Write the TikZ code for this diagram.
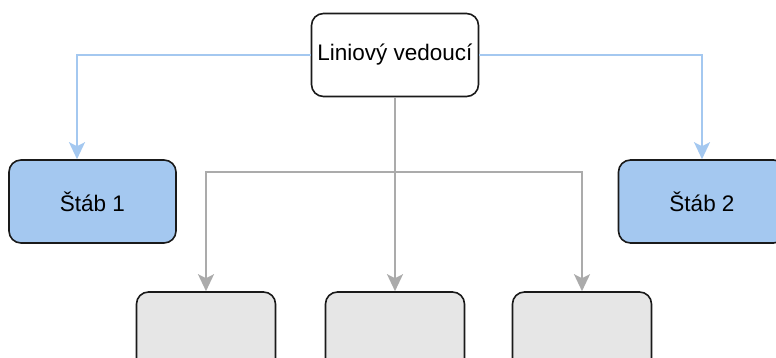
\documentclass[tikz,border=0pt]{standalone}
\usepackage{fontspec}
\setmainfont{Liberation Sans}
\usetikzlibrary{arrows.meta}
\definecolor{boxline}{HTML}{1A1A1A}
\definecolor{stafffill}{HTML}{A4C8F0}
\definecolor{staffline}{HTML}{A4C8F0}
\definecolor{unitfill}{HTML}{E6E6E6}
\definecolor{unitline}{HTML}{ABABAB}
\tikzset{
  orgbox/.style={draw=boxline, line width=1.6pt, rounded corners=12pt,
    minimum width=167pt, minimum height=83pt, inner sep=0pt,
    font=\fontsize{22.5}{27}\selectfont},
  headbox/.style={orgbox, fill=white},
  staffbox/.style={orgbox, fill=stafffill},
  unitbox/.style={orgbox, fill=unitfill, minimum width=139pt},
  tip/.style={-{Stealth[length=17pt, width=16pt, inset=4pt]}},
  staffarrow/.style={tip, draw=staffline, line width=2pt},
  unitarrow/.style={tip, draw=unitline, line width=2pt},
}
\begin{document}
\begin{tikzpicture}[x=1pt, y=-1pt]
  \useasboundingbox (0,0) rectangle (776,358);
  \begin{scope}
    \clip (0,0) rectangle (776,358);
    % organisation units
    \node[headbox]  (head)  at (395,55)  {Liniový vedoucí};
    \node[staffbox] (staff1) at (92.5,201.5) {Štáb 1};
    \node[staffbox] (staff2) at (702,201.5)  {Štáb 2};
    \node[unitbox]  (unit1) at (206,333.5) {};
    \node[unitbox]  (unit2) at (395,333.5) {};
    \node[unitbox]  (unit3) at (582,333.5) {};
    % staff links
    \draw[staffarrow] (head.west) -| ([xshift=-15.5pt]staff1.north);
    \draw[staffarrow] (head.east) -| (staff2.north);
    % line of command
    \coordinate (split) at (395,172);
    \draw[unitarrow] (head.south) -- (unit2.north);
    \draw[unitarrow] (split) -| (unit1.north);
    \draw[unitarrow] (split) -| (unit3.north);
  \end{scope}
\end{tikzpicture}
\end{document}
